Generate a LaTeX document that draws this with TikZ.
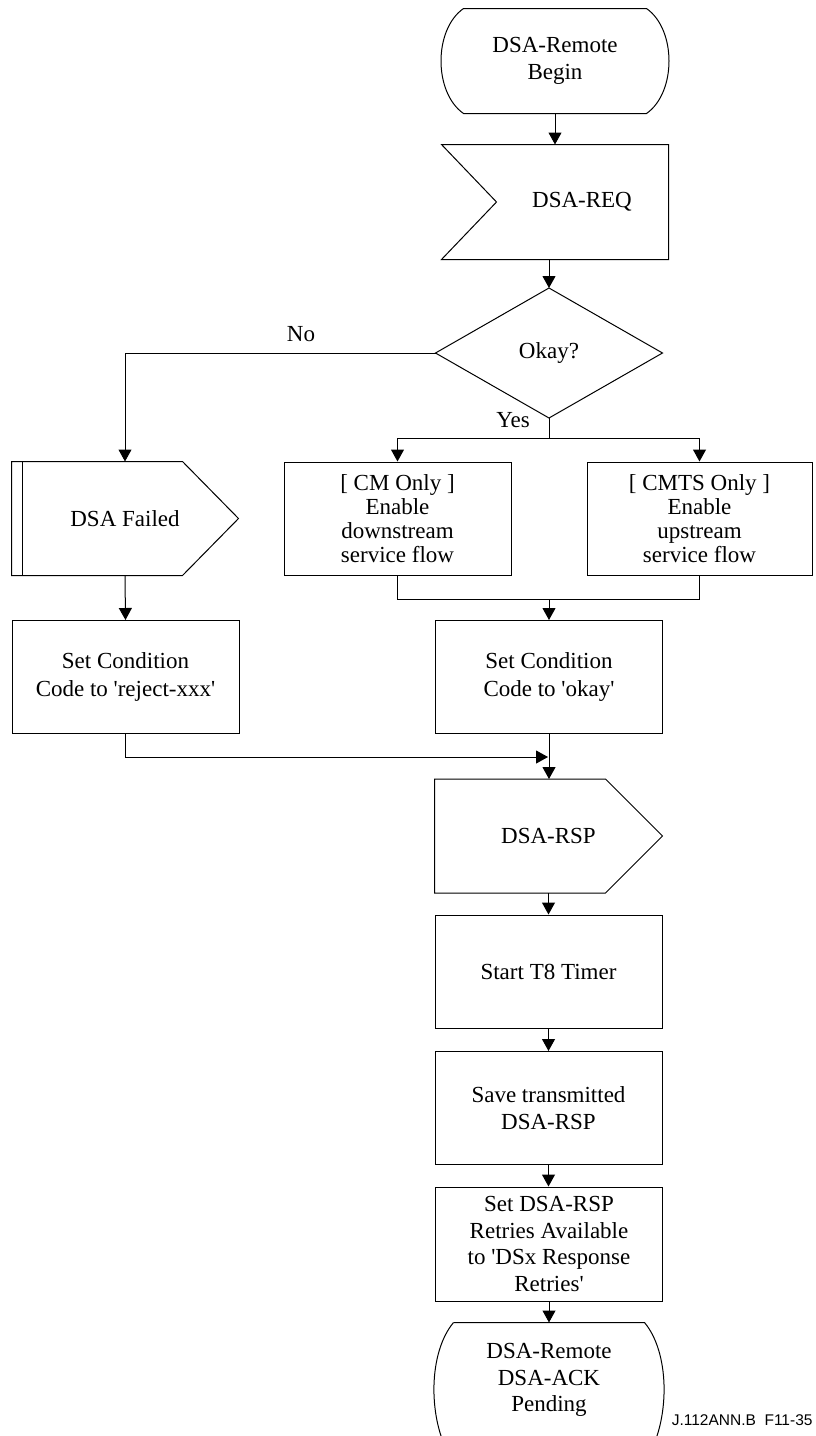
\documentclass[tikz,border=0pt]{standalone}
\usepackage{fontspec}
\setmainfont{Liberation Serif}[Ligatures=TeXOff]
\newfontfamily\labelfont{Liberation Sans}
\usetikzlibrary{arrows.meta,calc}
\begin{document}
\begin{tikzpicture}[x=1pt,y=-1pt,
  line width=1pt,
  txt/.style={font=\fontsize{23}{26.5}\selectfont, align=center, inner sep=0pt},
  box/.style={txt, draw, minimum width=227pt, minimum height=113pt},
  shapebox/.style={txt, minimum width=227pt, minimum height=113pt},
  arr/.style={-{Triangle[length=12pt,width=13pt]}},
]
\useasboundingbox (0,0) rectangle (816,1436);

% ---- nodes ----
\node[shapebox, minimum width=228pt, minimum height=104pt] (begin) at (555,61) {DSA-Remote\\Begin};
\draw ($(begin.north west)+(23,0)$) -- ($(begin.north east)+(-23,0)$)
  .. controls ($(begin.north east)+(7,21)$) and ($(begin.south east)+(7,-21)$) .. ($(begin.south east)+(-23,0)$)
  -- ($(begin.south west)+(23,0)$)
  .. controls ($(begin.south west)+(-7,-21)$) and ($(begin.north west)+(-7,21)$) .. cycle;

\node[shapebox, minimum width=226pt, minimum height=114pt] (req) at (555,202) {\hspace*{54pt}DSA-REQ};
\draw (req.north west) -- (req.north east) -- (req.south east) -- (req.south west)
  -- ($(req.west)+(55,0)$) -- cycle;

\node[shapebox, minimum width=226pt, minimum height=129pt] (okay) at (549,353) {Okay?};
\draw (okay.north) -- (okay.east) -- (okay.south) -- (okay.west) -- cycle;

\node[shapebox, minimum width=226pt] (fail) at (125,518.5) {DSA Failed};
\draw (fail.north west) -- ($(fail.north east)+(-56,0)$) -- (fail.east)
  -- ($(fail.south east)+(-56,0)$) -- (fail.south west) -- cycle;
\draw ($(fail.north west)+(11,0)$) -- ($(fail.south west)+(11,0)$);

\node[box, font=\fontsize{23}{24}\selectfont] (cm) at (397.5,518.5) {[ CM Only ]\\Enable\\downstream\\service flow};
\node[box, minimum width=225pt, font=\fontsize{23}{24}\selectfont] (cmts) at (699.5,518.5) {[ CMTS Only ]\\Enable\\upstream\\service flow};

\node[box, font=\fontsize{23}{27.5}\selectfont] (setrej) at (125.5,677) {Set Condition\\Code to 'reject-xxx'};
\node[box, font=\fontsize{23}{27.5}\selectfont] (setok) at (549,677) {Set Condition\\Code to 'okay'};

\node[shapebox] (rsp) at (548.5,836) {DSA-RSP};
\draw (rsp.north west) -- ($(rsp.north east)+(-57,0)$) -- (rsp.east)
  -- ($(rsp.south east)+(-57,0)$) -- (rsp.south west) -- cycle;

\node[box] (t8) at (548.5,971.5) {Start T8 Timer};
\node[box] (save) at (548.5,1108) {Save transmitted\\DSA-RSP};
\node[box, minimum height=114pt] (retries) at (549,1244) {Set DSA-RSP\\Retries Available\\to 'DSx Response\\Retries'};

\node[shapebox, minimum width=226pt, minimum height=114pt] (end) at (549,1380) {DSA-Remote\\DSA-ACK\\Pending};
\draw ($(end.north west)+(18,0)$) -- ($(end.north east)+(-18,0)$)
  .. controls ($(end.north east)+(7,30)$) and ($(end.east)+(7,35)$) .. ($(end.south east)+(-12,14)$);
\draw ($(end.north west)+(18,0)$)
  .. controls ($(end.north west)+(-7,30)$) and ($(end.west)+(-7,35)$) .. ($(end.south west)+(12,14)$);

\node[txt] (no) at (301,334) {No};
\node[txt] (yes) at (513,420) {Yes};

\node[anchor=base east, inner sep=0pt, font=\labelfont\fontsize{15.5}{18}\selectfont] (fig) at (813,1425) {J.112ANN.B\ \ F11-35};

% ---- connectors ----
\draw[arr] (begin.south) -- (req.north);
\draw[arr] (req.south -| okay.north) -- (okay.north);
\draw[arr] (okay.west) -| (fail.north);
\coordinate (split) at (549,438);
\draw (okay.south) -- (split);
\draw[arr] (split) -| (cm.north);
\draw[arr] (split) -| (cmts.north);
\coordinate (join) at (549,599);
\draw (cm.south) |- (join) -| (cmts.south);
\draw[arr] (join) -- (setok.north);
\draw[arr] (fail.south) -- (setrej.north);
\coordinate (merge) at (548,757);
\draw[arr] (setrej.south) |- (merge);
\draw[arr] (setok.south) -- (setok.south |- rsp.north);
\draw[arr] (rsp.south) -- (t8.north);
\draw[arr] (t8.south) -- (save.north);
\draw[arr] (save.south) -- (save.south |- retries.north);
\draw[arr] (retries.south) -- (end.north);
\end{tikzpicture}
\end{document}
